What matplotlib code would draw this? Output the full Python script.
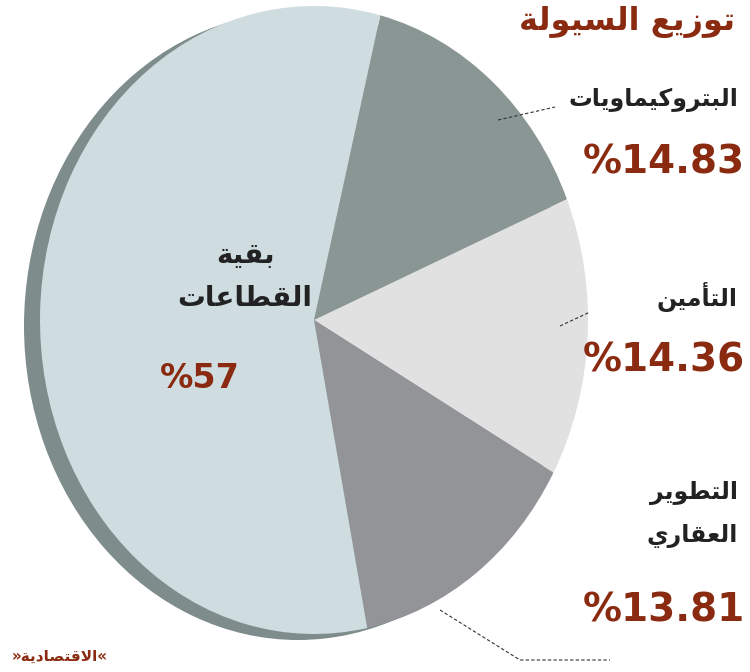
import matplotlib
matplotlib.use("Agg")
import matplotlib.pyplot as plt

labels = ["البتروكيماويات", "التأمين", "التطوير العقاري", "بقية القطاعات"]
values = [14.83, 14.36, 13.81, 57]
pct_labels = ["%14.83", "%14.36", "%13.81", "%57"]
colors = ["#8a9693", "#e1e1e1", "#929497", "#cfdde1"]
title = "توزيع السيولة"
source = "«الاقتصادية»"

DUAL = {'ب':0xFE8F,'ت':0xFE95,'س':0xFEB1,'ص':0xFEB9,'ط':0xFEC1,'ع':0xFEC9,
        'ق':0xFED5,'ك':0xFED9,'ل':0xFEDD,'م':0xFEE1,'ن':0xFEE5,'ه':0xFEE9,'ي':0xFEF1}
RIGHT = {'ا':0xFE8D,'أ':0xFE83,'ة':0xFE93,'د':0xFEA9,'ر':0xFEAD,'ز':0xFEAF,'و':0xFEED}
def is_ar(c): return c in DUAL or c in RIGHT or c in ('LA', 'LAH')
def shape(s):
    chars = []
    i = 0
    while i < len(s):
        if s[i] == 'ل' and i + 1 < len(s) and s[i+1] in 'اأ':
            chars.append('LA' if s[i+1] == 'ا' else 'LAH'); i += 2
        else:
            chars.append(s[i]); i += 1
    out = []
    for k, c in enumerate(chars):
        prev = chars[k-1] if k > 0 else None
        nxt = chars[k+1] if k + 1 < len(chars) else None
        jp = prev in DUAL
        if c in ('LA', 'LAH'):
            base = 0xFEFB if c == 'LA' else 0xFEF7
            out.append(chr(base + (1 if jp else 0))); continue
        if c in DUAL:
            b = DUAL[c]
            jn = nxt is not None and is_ar(nxt)
            f = b + 3 if (jp and jn) else b + 1 if jp else b + 2 if jn else b
            out.append(chr(f))
        elif c in RIGHT:
            out.append(chr(RIGHT[c] + (1 if jp else 0)))
        else:
            out.append(c)
    return ''.join(reversed(out))

W, H = 750, 672
fig = plt.figure(figsize=(7.5, 6.72), dpi=100)

def pie_ax(x0, y0, x1, y1):
    return fig.add_axes([x0 / W, 1 - y1 / H, (x1 - x0) / W, (y1 - y0) / H])

sh = pie_ax(24, 12, 572, 640)
sh.pie([1], colors=["#7f8c8c"], radius=1, frame=True, wedgeprops=dict(linewidth=0))
sh.set_aspect('auto'); sh.set_xlim(-1, 1); sh.set_ylim(-1, 1); sh.axis('off')
pa = pie_ax(40, 6, 588, 634)
pa.pie(values, colors=colors, startangle=76, counterclock=False, radius=1, frame=True,
       wedgeprops=dict(linewidth=0))
pa.set_aspect('auto'); pa.set_xlim(-1, 1); pa.set_ylim(-1, 1); pa.axis('off')

bg = fig.add_axes([0, 0, 1, 1]); bg.set_xlim(0, W); bg.set_ylim(H, 0); bg.axis('off')
bg.patch.set_alpha(0)

red = "#8a2a10"
F = "DejaVu Sans"
bg.text(735, 22, shape(title), ha='right', va='center', fontsize=23, fontweight='bold', color=red, family=F)
bg.text(738, 100, shape(labels[0]), ha='right', va='center', fontsize=17, fontweight='bold', color='#222', family=F)
bg.text(745, 162, pct_labels[0], ha='right', va='center', fontsize=28, fontweight='bold', color=red, family=F)
bg.text(738, 297, shape(labels[1]), ha='right', va='center', fontsize=17, fontweight='bold', color='#222', family=F)
bg.text(745, 360, pct_labels[1], ha='right', va='center', fontsize=28, fontweight='bold', color=red, family=F)
w1, w2 = labels[2].split(" ")
bg.text(738, 493, shape(w1), ha='right', va='center', fontsize=17, fontweight='bold', color='#222', family=F)
bg.text(738, 536, shape(w2), ha='right', va='center', fontsize=17, fontweight='bold', color='#222', family=F)
bg.text(745, 610, pct_labels[2], ha='right', va='center', fontsize=28, fontweight='bold', color=red, family=F)
a, b = labels[3].split(" ")
bg.text(245, 255, shape(a), ha='center', va='center', fontsize=20, fontweight='bold', color='#222', family=F)
bg.text(245, 298, shape(b), ha='center', va='center', fontsize=20, fontweight='bold', color='#222', family=F)
bg.text(200, 378, pct_labels[3], ha='center', va='center', fontsize=24, fontweight='bold', color=red, family=F)
bg.text(12, 656, shape(source), ha='left', va='center', fontsize=11, fontweight='bold', color=red, family=F)

ls = dict(color='#333', lw=0.8, ls=(0, (3, 2)))
bg.plot([498, 555], [120, 107], **ls)
bg.plot([560, 590], [326, 312], **ls)
bg.plot([440, 520, 610], [610, 660, 660], **ls)

fig.savefig("out.png", dpi=100)
